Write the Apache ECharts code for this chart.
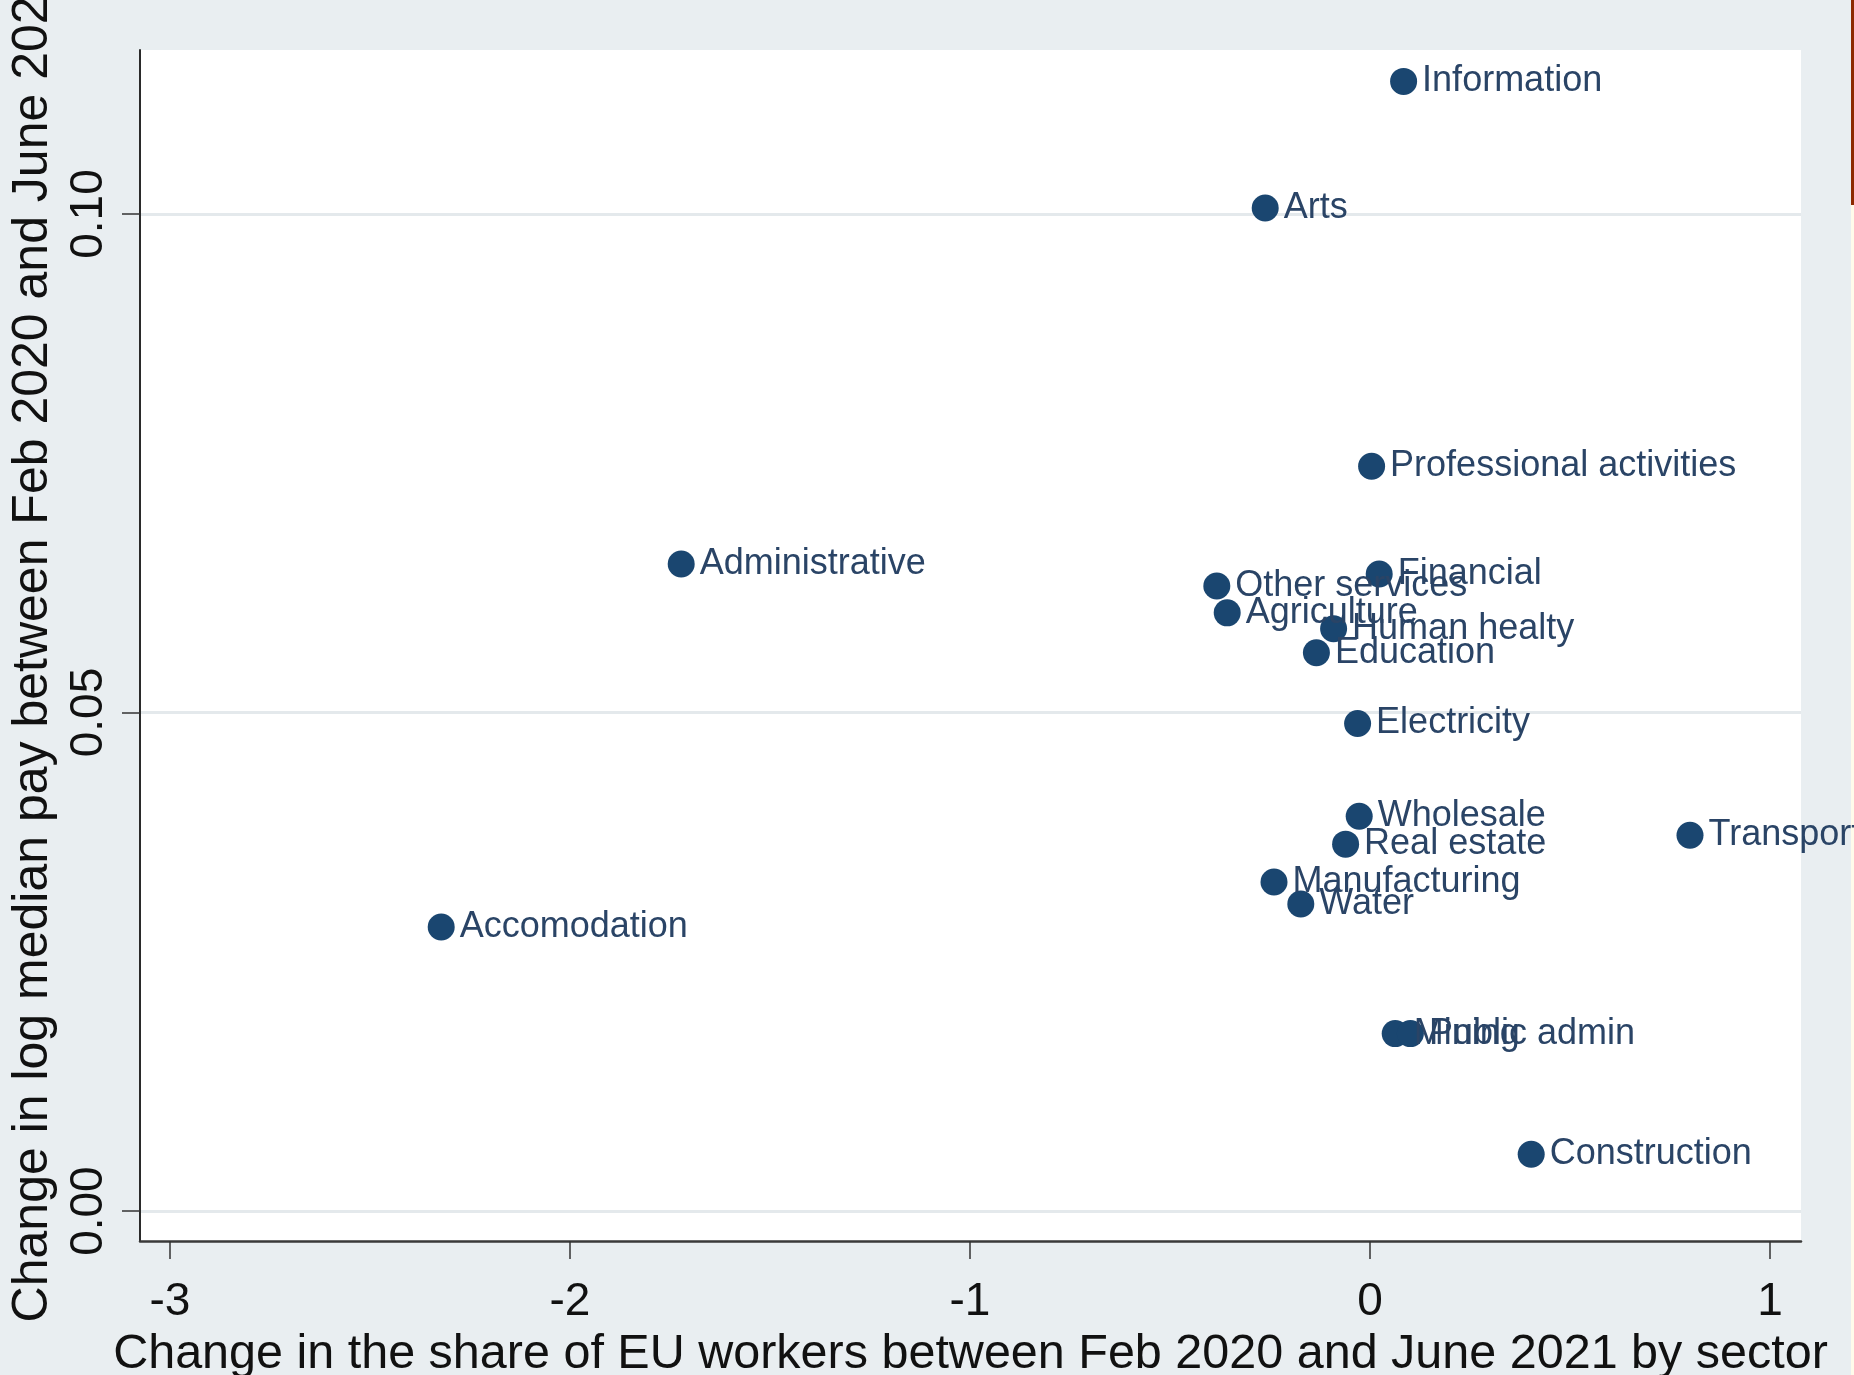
<!DOCTYPE html>
<html>
<head>
<meta charset="utf-8">
<title>EU workers and median pay by sector</title>
<script src="https://cdn.jsdelivr.net/npm/echarts@6.0.0/dist/echarts.min.js"></script>
<style>
    html, body { margin: 0; padding: 0; background: #e9eef1; }
    #main { width: 1854px; height: 1375px; }
</style>
</head>
<body>
<div id="main"></div>
<script>
// values
var sectors = ['Information', 'Arts', 'Professional activities', 'Administrative', 'Financial',
    'Other services', 'Agriculture', 'Human healty', 'Education', 'Electricity', 'Wholesale',
    'Real estate', 'Transport', 'Manufacturing', 'Water', 'Accomodation', 'Mining',
    'Public admin', 'Construction']
var shareChange = [0.084, -0.262, 0.004, -1.722, 0.023, -0.383, -0.357, -0.091, -0.134, -0.031, -0.027,
    -0.061, 0.800, -0.240, -0.173, -2.322, 0.063, 0.101, 0.403]
var payChange = [0.1133, 0.1006, 0.0747, 0.0649, 0.0639, 0.0627, 0.0600, 0.0584, 0.0560, 0.0489, 0.0396,
    0.0368, 0.0377, 0.0330, 0.0308, 0.0285, 0.0178, 0.0178, 0.0057]
var xTicks = [-3, -2, -1, 0, 1]
var yTicks = [0, 0.05, 0.10]

var font = 'Liberation Sans, Arial, sans-serif'

var points = sectors.map(function (s, i) {
    return { name: s, value: [shareChange[i], payChange[i]] }
})

var option = {
    animation: false,
    backgroundColor: '#e9eef1',
    textStyle: { fontFamily: font },
    grid: {
        left: 140,
        top: 50,
        width: 1661,
        height: 1191,
        outerBoundsMode: 'none',
        containLabel: false,
        show: true,
        backgroundColor: '#ffffff',
        borderWidth: 0
    },
    xAxis: {
        type: 'value',
        min: -3.075,
        max: 1.0775,
        axisLine: { show: true, onZero: false, lineStyle: { color: '#3a3a3a', width: 2.5 } },
        axisTick: { show: true, customValues: xTicks, length: 18, lineStyle: { color: '#333', width: 1.5 } },
        axisLabel: { customValues: xTicks, fontSize: 46, color: '#111', margin: 38, fontFamily: font },
        splitLine: { show: false },
        name: 'Change in the share of EU workers between Feb 2020 and June 2021 by sector',
        nameLocation: 'middle',
        nameGap: 88,
        nameTextStyle: { fontSize: 48.5, color: '#111', fontFamily: font }
    },
    yAxis: {
        type: 'value',
        min: -0.0030,
        max: 0.11645,
        axisLine: { show: true, onZero: false, lineStyle: { color: '#2a2a2a', width: 2 } },
        axisTick: { show: true, customValues: yTicks, length: 18, lineStyle: { color: '#333', width: 1.5 } },
        axisLabel: {
            customValues: yTicks,
            rotate: 90,
            fontSize: 46,
            color: '#111',
            margin: 28,
            fontFamily: font,
            formatter: function (v) { return v.toFixed(2) }
        },
        splitLine: { show: true, lineStyle: { color: '#e4e9ec', width: 3 } },
        name: 'Change in log median pay between Feb 2020 and June 2021',
        nameLocation: 'middle',
        nameGap: 82,
        nameTextStyle: { fontSize: 50, color: '#111', fontFamily: font }
    },
    series: [{
        type: 'scatter',
        data: points,
        symbolSize: 27,
        itemStyle: { color: '#1a4670', opacity: 1 },
        label: {
            show: true,
            position: 'right',
            distance: 5,
            formatter: '{b}',
            fontSize: 36,
            color: '#2a4466',
            fontFamily: font
        }
    }],
    graphic: [
        { type: 'rect', left: 1851, top: 0, shape: { width: 3, height: 205 }, style: { fill: '#8c2a00' } },
        { type: 'rect', left: 1851, top: 205, shape: { width: 3, height: 1170 }, style: { fill: '#fffbea' } }
    ]
}

var chart = echarts.init(document.getElementById('main'))
chart.setOption(option)
</script>
</body>
</html>
